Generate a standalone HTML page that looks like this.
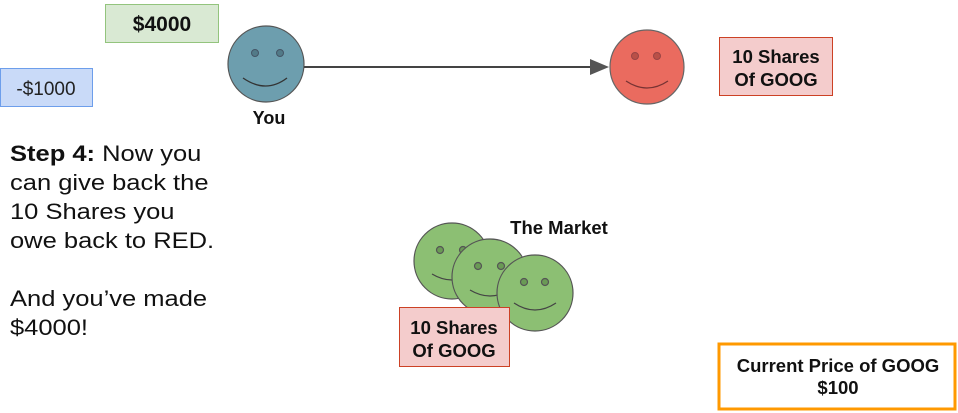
<!DOCTYPE html>
<html><head><meta charset="utf-8"><style>
html,body{margin:0;padding:0;background:#fff;width:958px;height:413px;overflow:hidden}
svg text{font-family:"Liberation Sans",sans-serif}
</style></head><body>
<svg width="958" height="413" viewBox="0 0 958 413" xmlns="http://www.w3.org/2000/svg">
<!-- boxes -->
<rect x="105.5" y="4.5" width="113" height="38" fill="#d9e9d3" stroke="#93c47d"/>
<text x="162" y="31" text-anchor="middle" font-size="21" font-weight="bold" fill="#111">$4000</text>
<rect x="0.5" y="68.5" width="92" height="38" fill="#c9daf8" stroke="#6d9eeb"/>
<text x="46" y="95" text-anchor="middle" font-size="19" fill="#222">-$1000</text>
<!-- blue face -->
<g transform="translate(266,64)" stroke="#555">
<circle r="38" fill="#6d9eae" stroke="#555" stroke-width="1.2"/>
<circle cx="-11" cy="-11" r="3.5" fill="#527a88" stroke="#456"/>
<circle cx="14" cy="-11" r="3.5" fill="#527a88" stroke="#456"/>
<path d="M-23,14 Q0,30 21,14" fill="none" stroke="#333" stroke-width="1.3"/>
</g>
<text x="269" y="124" text-anchor="middle" font-size="18" font-weight="bold" fill="#111">You</text>
<!-- arrow -->
<line x1="304" y1="67" x2="592" y2="67" stroke="#444" stroke-width="2"/>
<polygon points="590,59 609,67 590,75" fill="#555"/>
<!-- red face -->
<g transform="translate(647,67)">
<circle r="37" fill="#ea6b5f" stroke="#666" stroke-width="1.2"/>
<circle cx="-12" cy="-11" r="3.5" fill="#b95048" stroke="#944"/>
<circle cx="10" cy="-11" r="3.5" fill="#b95048" stroke="#944"/>
<path d="M-21,14 Q0,28 21,14" fill="none" stroke="#733" stroke-width="1.3"/>
</g>
<rect x="719.5" y="37.5" width="113" height="58" fill="#f4cccc" stroke="#cc4125"/>
<text x="776" y="63" text-anchor="middle" font-size="18.5" font-weight="bold" fill="#111">10 Shares</text>
<text x="776" y="86" text-anchor="middle" font-size="18.5" font-weight="bold" fill="#111">Of GOOG</text>
<!-- step text -->
<g font-size="22" fill="#111" transform="translate(10,0) scale(1.16,1)">
<text x="0" y="161"><tspan font-weight="bold">Step 4:</tspan> Now you</text>
<text x="0" y="190">can give back the</text>
<text x="0" y="219">10 Shares you</text>
<text x="0" y="248">owe back to RED.</text>
<text x="0" y="306">And you’ve made</text>
<text x="0" y="335">$4000!</text>
</g>
<!-- green faces -->
<g stroke="#555" stroke-width="1.2">
<g transform="translate(452,261)">
<circle r="38" fill="#8cbf73"/>
<circle cx="-12" cy="-11" r="3.5" fill="#6a9a55"/>
<circle cx="11" cy="-11" r="3.5" fill="#6a9a55"/>
<path d="M-20,13 Q0,25 20,13" fill="none" stroke="#444"/>
</g>
<g transform="translate(490,277)">
<circle r="38" fill="#8cbf73"/>
<circle cx="-12" cy="-11" r="3.5" fill="#6a9a55"/>
<circle cx="11" cy="-11" r="3.5" fill="#6a9a55"/>
<path d="M-20,13 Q0,25 20,13" fill="none" stroke="#444"/>
</g>
<g transform="translate(535,293)">
<circle r="38" fill="#8cbf73"/>
<circle cx="-11" cy="-11" r="3.5" fill="#6a9a55"/>
<circle cx="10" cy="-11" r="3.5" fill="#6a9a55"/>
<path d="M-21,10 Q0,24 21,10" fill="none" stroke="#444"/>
</g>
</g>
<text x="559" y="234" text-anchor="middle" font-size="18.5" font-weight="bold" fill="#111">The Market</text>
<rect x="399.5" y="307.5" width="110" height="59" fill="#f4cccc" stroke="#cc4125"/>
<text x="454" y="334" text-anchor="middle" font-size="18.5" font-weight="bold" fill="#111">10 Shares</text>
<text x="454" y="357" text-anchor="middle" font-size="18.5" font-weight="bold" fill="#111">Of GOOG</text>
<!-- orange box -->
<rect x="719" y="344" width="236" height="65" fill="#fff" stroke="#ff9900" stroke-width="3"/>
<text x="838" y="372" text-anchor="middle" font-size="18.5" font-weight="bold" fill="#111">Current Price of GOOG</text>
<text x="838" y="394" text-anchor="middle" font-size="18.5" font-weight="bold" fill="#111">$100</text>
</svg>
</body></html>
